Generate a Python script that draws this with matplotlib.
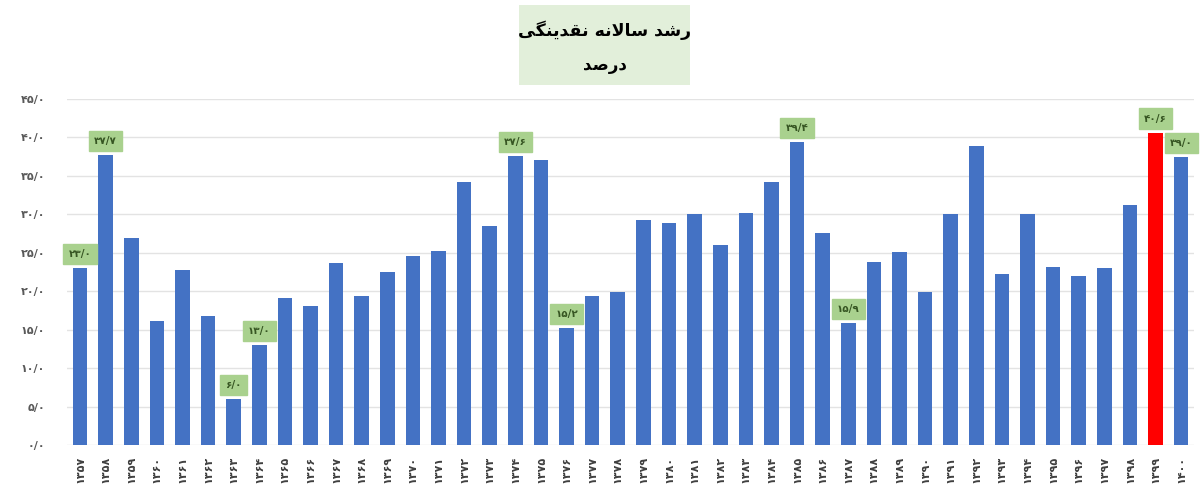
import numpy as np
import matplotlib.pyplot as plt
from matplotlib.patches import Rectangle

# years 1357..1400, annual liquidity growth (percent)
years = list(range(1357, 1401))
growth = [23.0, 37.7, 26.9, 16.1, 22.7, 16.8, 6.0, 13.0, 19.1, 18.0,
          23.7, 19.4, 22.5, 24.5, 25.2, 34.2, 28.4, 37.6, 37.0, 15.2,
          19.3, 19.9, 29.2, 28.8, 30.0, 26.0, 30.2, 34.2, 39.4, 27.6,
          15.9, 23.8, 25.1, 19.9, 30.0, 38.9, 22.2, 30.0, 23.1, 21.9,
          23.0, 31.2, 40.6, 37.4]
highlight_year = 1399
# annotated bars: year -> text shown in the green box
labels = {1357: 23.0, 1358: 37.7, 1363: 6.0, 1364: 13.0, 1374: 37.6,
          1376: 15.2, 1385: 39.4, 1387: 15.9, 1399: 40.6, 1400: 39.0}
yticks = [0, 5, 10, 15, 20, 25, 30, 35, 40, 45]

title1 = "رشد سالانه نقدینگی"
title2 = "درصد"

FA_DIGITS = str.maketrans("0123456789.", "۰۱۲۳۴۵۶۷۸۹/")

def fa(s):
    return str(s).translate(FA_DIGITS)

# small arabic shaper (matplotlib has no complex text layout)
FORMS = {
    'ا': ('\uFE8D', '\uFE8E', None, None),
    'د': ('\uFEA9', '\uFEAA', None, None),
    'ر': ('\uFEAD', '\uFEAE', None, None),
    'ش': ('\uFEB5', '\uFEB6', '\uFEB7', '\uFEB8'),
    'س': ('\uFEB1', '\uFEB2', '\uFEB3', '\uFEB4'),
    'ص': ('\uFEB9', '\uFEBA', '\uFEBB', '\uFEBC'),
    'ل': ('\uFEDD', '\uFEDE', '\uFEDF', '\uFEE0'),
    'ن': ('\uFEE5', '\uFEE6', '\uFEE7', '\uFEE8'),
    'ه': ('\uFEE9', '\uFEEA', '\uFEEB', '\uFEEC'),
    'ت': ('\uFE95', '\uFE96', '\uFE97', '\uFE98'),
    'ق': ('\uFED5', '\uFED6', '\uFED7', '\uFED8'),
    'ی': ('\uFBFC', '\uFBFD', '\uFBFE', '\uFBFF'),
    'ک': ('\uFB8E', '\uFB8F', '\uFB90', '\uFB91'),
    'گ': ('\uFB92', '\uFB93', '\uFB94', '\uFB95'),
}

def shape(text):
    out = []
    i = 0
    while i < len(text):
        c = text[i]
        if c not in FORMS:
            out.append(c)
            i += 1
            continue
        prev = text[i - 1] if i > 0 else None
        joins_prev = prev in FORMS and FORMS[prev][2] is not None
        if c == 'ل' and i + 1 < len(text) and text[i + 1] == 'ا':
            out.append('\uFEFC' if joins_prev else '\uFEFB')
            i += 2
            continue
        nxt = text[i + 1] if i + 1 < len(text) else None
        joins_next = FORMS[c][2] is not None and nxt in FORMS
        iso, fin, ini, med = FORMS[c]
        if joins_prev and joins_next:
            out.append(med)
        elif joins_prev:
            out.append(fin)
        elif joins_next:
            out.append(ini)
        else:
            out.append(iso)
        i += 1
    return ''.join(reversed(out))


plt.rcParams['font.family'] = ['DejaVu Sans']

fig = plt.figure(figsize=(12, 4.92), dpi=100)
ax = fig.add_axes([0.056, 0.0955, 0.939, 0.704])

x = np.arange(len(years))
colors = ['#FF0000' if y == highlight_year else '#4472C4' for y in years]
ax.bar(x, growth, width=0.57, color=colors, zorder=2)

ax.set_ylim(0, 45)
ax.set_xlim(-0.5, len(years) - 0.5)
ax.set_yticks(yticks)
ax.set_yticklabels([fa(f"{v:.1f}") for v in yticks], fontsize=8,
                   color='#595959', fontweight='bold')
ax.set_xticks(x)
ax.set_xticklabels([fa(y) for y in years], rotation=90, fontsize=8,
                   color='#404040', fontweight='bold')
ax.tick_params(axis='x', length=0, pad=8)
ax.tick_params(axis='y', length=0, pad=16)
ax.grid(axis='y', color='#e3e3e3', linewidth=1, zorder=0)
for s in ax.spines.values():
    s.set_visible(False)

for yr, val in labels.items():
    i = years.index(yr)
    ax.annotate(fa(f"{val:.1f}"), (i, growth[i]), xytext=(0, 10),
                textcoords='offset points', ha='center', va='center',
                fontsize=7.5, fontweight='bold', color='#375623', zorder=4,
                bbox=dict(boxstyle='square,pad=0.5', fc='#A9D18E',
                          ec='#A9D18E'))

# title box
fig.patches.append(Rectangle((0.4325, 0.827), 0.1425, 0.163,
                             transform=fig.transFigure, fc='#E2EFDA',
                             ec='none', zorder=0))
fig.text(0.504, 0.939, shape(title1), ha='center', va='center',
         fontsize=12.5, fontweight='bold', color='black')
fig.text(0.504, 0.868, shape(title2), ha='center', va='center',
         fontsize=12, fontweight='bold', color='black')

fig.savefig('out.png', dpi=100)
